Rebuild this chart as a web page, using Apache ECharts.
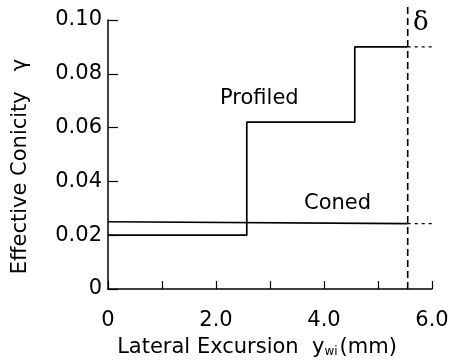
<!DOCTYPE html>
<html>
<head>
	<meta charset="utf-8">
	<script src="https://cdn.jsdelivr.net/npm/echarts@6/dist/echarts.min.js"></script>
</head>
<body style="margin:0">
	<div id="main" style="width: 453px; height: 363px;"></div>
<script type="text/javascript">
        // data
        var profiledX = [0, 2.57, 2.57, 4.57, 4.57, 5.55];
        var profiledY = [0.020, 0.020, 0.062, 0.062, 0.090, 0.090];
        var conedX = [0, 5.55];
        var conedY = [0.025, 0.0243];
        var deltaX = 5.55;
        var deltaTop = 0.105;
        var xEnd = 6.0;

        var pairs = function (xs, ys) {
            var res = [];
            for (var i = 0; i < xs.length; i++) res.push([xs[i], ys[i]]);
            return res;
        };
        var last = function (a) { return a[a.length - 1]; };

        var font = '"DejaVu Sans", Verdana, sans-serif';
        var myChart = echarts.init(document.getElementById('main'));

        var option = {
            backgroundColor: '#fff',
            animation: false,
            grid: { left: 108, right: 21, top: 20, bottom: 73 },
            xAxis: {
                type: 'value', min: 0, max: 6, interval: 1,
                name: '{a|Lateral Excursion  y}{s|wi}{a|(mm)}',
                nameLocation: 'middle', nameGap: 48,
                nameTextStyle: {
                    padding: [0, 26, 0, 0],
                    rich: {
                        a: { fontSize: 21, fontFamily: font, color: '#000' },
                        s: { fontSize: 12, fontFamily: font, color: '#000', padding: [8, 2, 0, 0] }
                    }
                },
                axisLine: { lineStyle: { color: '#000', width: 1.5 } },
                axisTick: { inside: true, length: 8, lineStyle: { color: '#000', width: 1.2 } },
                splitLine: { show: false },
                axisLabel: {
                    margin: 21, fontSize: 21, fontFamily: font, color: '#000',
                    formatter: function (v) {
                        if (v === 0) return '0';
                        return v % 2 === 0 ? v.toFixed(1) : '';
                    }
                }
            },
            yAxis: {
                type: 'value', min: 0, max: 0.1, interval: 0.02,
                name: 'Effective Conicity   γ',
                nameLocation: 'middle', nameGap: 77,
                nameTextStyle: { fontSize: 21, fontFamily: font, color: '#000', padding: [0, 24, 0, 0] },
                axisLine: { show: true, lineStyle: { color: '#000', width: 1.5 } },
                axisTick: { show: true, inside: true, length: 10, lineStyle: { color: '#000', width: 1.2 } },
                splitLine: { show: false },
                axisLabel: {
                    margin: 6, fontSize: 21, fontFamily: font, color: '#000',
                    formatter: function (v) { return v === 0 ? '0' : v.toFixed(2); }
                }
            },
            series: [
                {
                    name: 'Profiled', type: 'line', symbol: 'none',
                    data: pairs(profiledX, profiledY),
                    lineStyle: { color: '#000', width: 1.7 }
                },
                {
                    name: 'Profiled ext', type: 'line', symbol: 'none',
                    data: [[last(profiledX), last(profiledY)], [xEnd, last(profiledY)]],
                    lineStyle: { color: '#000', width: 1.2, type: [3, 4] }
                },
                {
                    name: 'Coned', type: 'line', symbol: 'none',
                    data: pairs(conedX, conedY),
                    lineStyle: { color: '#000', width: 1.7 }
                },
                {
                    name: 'Coned ext', type: 'line', symbol: 'none',
                    data: [[last(conedX), last(conedY)], [xEnd, last(conedY)]],
                    lineStyle: { color: '#000', width: 1.2, type: [3, 4] }
                },
                {
                    name: 'delta', type: 'line', symbol: 'none', clip: false,
                    data: [[deltaX, 0], [deltaX, deltaTop]],
                    lineStyle: { color: '#000', width: 1.6, type: [7, 4] }
                }
            ],
            graphic: [
                { type: 'text', left: 220, top: 88, style: { text: 'Profiled', fontSize: 21, fontFamily: font, fill: '#000' } },
                { type: 'text', left: 304, top: 193, style: { text: 'Coned', fontSize: 21, fontFamily: font, fill: '#000' } },
                { type: 'text', left: 413, top: 10, style: { text: 'δ', fontSize: 26, fontFamily: '"DejaVu Serif", "Liberation Serif", serif', fill: '#000' } }
            ]
        };

        myChart.setOption(option);
</script>
</body>
</html>
